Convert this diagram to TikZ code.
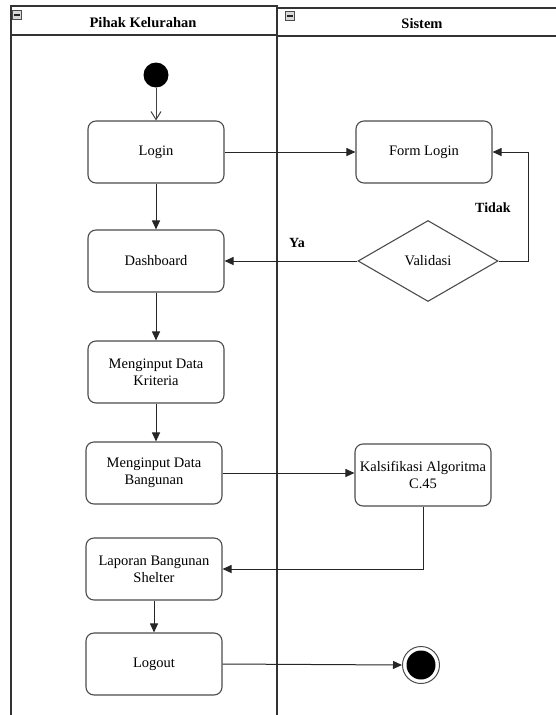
\documentclass[tikz,border=0pt]{standalone}
\usepackage{fontspec}
\setmainfont{Liberation Serif}
\usetikzlibrary{arrows.meta,shapes.geometric}
\begin{document}
\begin{tikzpicture}[x=1pt,y=-1pt,
  act/.style={draw=black!70, line width=1.1pt, rounded corners=8pt, minimum width=136pt, minimum height=62pt, align=center, font=\fontsize{14.5}{17}\selectfont, inner sep=1pt},
  dec/.style={draw=black!70, line width=1.1pt, shape=diamond, minimum width=140pt, minimum height=81pt, inner sep=0pt, font=\fontsize{14.5}{17}\selectfont},
  flow/.style={draw=black!85, line width=1pt, -{Triangle[length=9pt,width=8pt]}},
  openflow/.style={draw=black!75, line width=1pt, -{Straight Barb[length=8pt,width=10pt]}},
  lbl/.style={font=\fontsize{14}{16}\selectfont\bfseries, inner sep=1pt},
  title/.style={font=\fontsize{14.5}{16}\selectfont\bfseries, inner sep=1pt},
  lane/.style={draw=black!80, line width=1.1pt},
  mini/.style={draw=black!70, fill=black!15, minimum size=9pt, inner sep=0pt, line width=0.8pt}
]
\useasboundingbox (0,0) rectangle (555,715);
% swimlanes
\draw[lane] (11,715) -- (11,6) -- (277,6) -- (277,715);
\draw[lane] (11,35) -- (277,35);
\draw[lane] (277,8) -- (556,8);
\draw[lane] (277,36) -- (556,36);
\node[title] (h1) at (143,23) {Pihak Kelurahan};
\node[title] (h2) at (422,24) {Sistem};
\node[mini] (m1) at (17,15) {};
\draw[black!85, line width=1.2pt] ([xshift=2pt]m1.west) -- ([xshift=-2pt]m1.east);
\node[mini] (m2) at (290,16) {};
\draw[black!85, line width=1.2pt] ([xshift=2pt]m2.west) -- ([xshift=-2pt]m2.east);
% nodes
\node[circle, fill=black, minimum size=25pt, inner sep=0pt] (start) at (156,75) {};
\node[act] (login) at (156,152) {Login};
\node[act] (dash) at (156,261) {Dashboard};
\node[act] (krit) at (156,372) {Menginput Data\\Kriteria};
\node[act] (bang) at (154,473) {Menginput Data\\Bangunan};
\node[act] (lap) at (154,569) {Laporan Bangunan\\Shelter};
\node[act] (logout) at (154,664) {Logout};
\node[act] (form) at (424,152) {Form Login};
\node[dec] (val) at (428,261) {Validasi};
\node[act] (kal) at (423,475) {Kalsifikasi Algoritma\\C.45};
\node[circle, draw=black!70, line width=1pt, minimum size=37pt, inner sep=0pt] (end) at (421,665) {};
\node[circle, fill=black, minimum size=29pt, inner sep=0pt] (endin) at (421,665) {};
% labels
\node[lbl] (ya) at (297,243) {Ya};
\node[lbl] (tidak) at (493,208) {Tidak};
% edges
\draw[openflow] (start) -- (login);
\draw[flow] (login) -- (dash);
\draw[flow] (dash) -- (krit);
\draw[flow] (krit.south) -- (krit.south |- bang.north);
\draw[flow] (lap) -- (logout);
\draw[flow] (login) -- (form);
\draw[flow] (val) -- (dash);
\draw[flow] (val.east) -- ++(30,0) |- (form.east);
\draw[flow] (bang) -- (bang -| kal.west);
\draw[flow] (kal.south) |- (lap.east);
\draw[flow] (logout.east) -- (end.west);
\end{tikzpicture}
\end{document}
